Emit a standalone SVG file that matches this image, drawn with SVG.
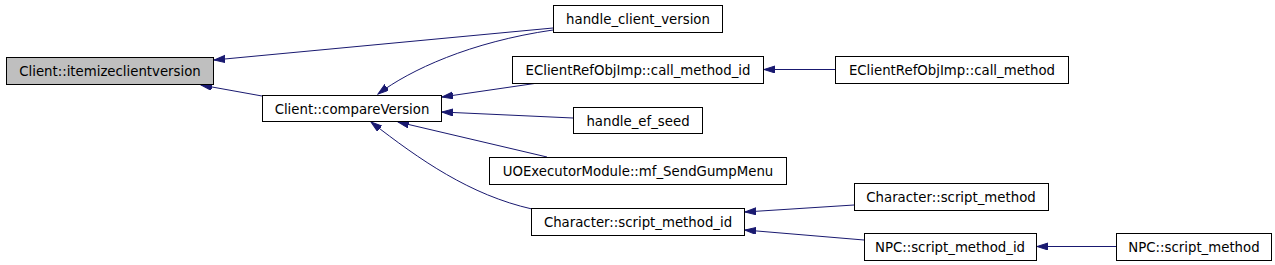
<svg xmlns="http://www.w3.org/2000/svg" width="1275" height="265" viewBox="0 0 1275 265">
<style>
.node rect{fill:#ffffff;stroke:#000000;stroke-width:1}
.node.root rect{fill:#bfbfbf}
.node text{font-family:"DejaVu Sans","Liberation Sans",sans-serif;font-size:13.3px;fill:#000000;text-anchor:middle}
.edges path{fill:none;stroke:#191970;stroke-width:1;marker-end:url(#arr)}
</style>
<defs>
<marker id="arr" markerUnits="userSpaceOnUse" markerWidth="12" markerHeight="8" refX="11" refY="3.5" orient="auto">
<path d="M0,0 L11,3.5 L0,7 z" fill="#191970" stroke="#191970" stroke-width="1"/>
</marker>
</defs>
<rect width="1275" height="265" fill="#ffffff"/>
<g class="edges" id="edges">
<path d="M553,28 L214,60"/>
<path d="M553,30 C470,42 410,70 378,94"/>
<path d="M262,96 L201,85"/>
<path d="M538,83 L442,97"/>
<path d="M573,118 L442,112"/>
<path d="M547,157 L398,122"/>
<path d="M532,209 C470,195 420,160 371,122"/>
<path d="M835,69.5 L764,69.5"/>
<path d="M854,205 L745,212"/>
<path d="M864,240 L745,230"/>
<path d="M1116,246.5 L1037,246.5"/>
</g>
<g class="node root" id="n0"><rect x="6.5" y="57.5" width="207" height="27"/><text x="110" y="76">Client::itemizeclientversion</text></g>
<g class="node" id="n1"><rect x="262.5" y="95.5" width="179" height="26"/><text x="352" y="114">Client::compareVersion</text></g>
<g class="node" id="n2"><rect x="553.5" y="5.5" width="169" height="27"/><text x="638" y="24">handle_client_version</text></g>
<g class="node" id="n3"><rect x="512.5" y="56.5" width="251" height="27"/><text x="638" y="75">EClientRefObjImp::call_method_id</text></g>
<g class="node" id="n4"><rect x="573.5" y="107.5" width="129" height="26"/><text x="638" y="126">handle_ef_seed</text></g>
<g class="node" id="n5"><rect x="489.5" y="157.5" width="297" height="27"/><text x="638" y="176">UOExecutorModule::mf_SendGumpMenu</text></g>
<g class="node" id="n6"><rect x="531.5" y="208.5" width="213" height="27"/><text x="638" y="227">Character::script_method_id</text></g>
<g class="node" id="n7"><rect x="835.5" y="56.5" width="233" height="27"/><text x="952" y="75">EClientRefObjImp::call_method</text></g>
<g class="node" id="n8"><rect x="854.5" y="183.5" width="194" height="27"/><text x="951" y="202">Character::script_method</text></g>
<g class="node" id="n9"><rect x="864.5" y="233.5" width="172" height="27"/><text x="950" y="252">NPC::script_method_id</text></g>
<g class="node" id="n10"><rect x="1116.5" y="233.5" width="155" height="27"/><text x="1194" y="252">NPC::script_method</text></g>
</svg>
